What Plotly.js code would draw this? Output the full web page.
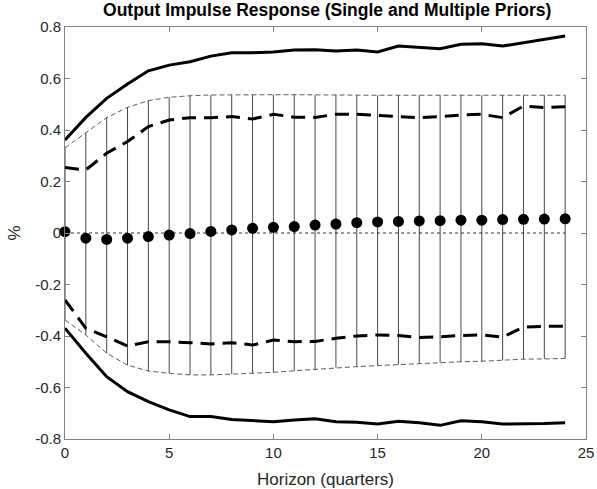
<!DOCTYPE html>
<html>
<head>
<meta charset="utf-8">
<script src="https://cdn.plot.ly/plotly-3.0.1.min.js"></script>
<style>html,body{margin:0;padding:0;background:#fff;}#chart{width:597px;height:489px;}</style>
</head>
<body>
<div id="chart"></div>
<script>
const horizon = [0,1,2,3,4,5,6,7,8,9,10,11,12,13,14,15,16,17,18,19,20,21,22,23,24];
const pointEstimate = [0.005,-0.02,-0.025,-0.02,-0.014,-0.008,-0.002,0.006,0.012,0.018,0.022,0.025,0.031,0.035,0.04,0.043,0.045,0.047,0.048,0.05,0.05,0.052,0.053,0.054,0.055];
const singleUpper = [0.331,0.39,0.448,0.488,0.514,0.527,0.533,0.536,0.537,0.537,0.537,0.537,0.536,0.536,0.535,0.535,0.535,0.535,0.535,0.535,0.535,0.535,0.535,0.535,0.535];
const singleLower = [-0.338,-0.396,-0.467,-0.513,-0.536,-0.545,-0.551,-0.551,-0.548,-0.545,-0.541,-0.535,-0.529,-0.523,-0.519,-0.515,-0.511,-0.507,-0.504,-0.5,-0.498,-0.494,-0.49,-0.489,-0.487];
const multiInnerUpper = [0.254,0.245,0.31,0.355,0.413,0.439,0.448,0.448,0.452,0.443,0.461,0.45,0.449,0.461,0.461,0.457,0.454,0.448,0.452,0.458,0.461,0.448,0.493,0.487,0.49];
const multiInnerLower = [-0.26,-0.37,-0.403,-0.439,-0.422,-0.422,-0.426,-0.431,-0.426,-0.435,-0.416,-0.422,-0.421,-0.409,-0.4,-0.396,-0.398,-0.406,-0.403,-0.398,-0.396,-0.404,-0.366,-0.362,-0.362];
const multiOuterUpper = [0.361,0.449,0.523,0.579,0.63,0.652,0.665,0.687,0.7,0.7,0.703,0.711,0.712,0.707,0.711,0.703,0.726,0.721,0.716,0.733,0.735,0.726,0.739,0.75,0.765];
const multiOuterLower = [-0.37,-0.467,-0.558,-0.616,-0.655,-0.687,-0.713,-0.713,-0.724,-0.729,-0.733,-0.726,-0.721,-0.733,-0.735,-0.742,-0.731,-0.737,-0.747,-0.729,-0.733,-0.742,-0.742,-0.74,-0.737];
const yTickVals = [-0.8,-0.6,-0.4,-0.2,0,0.2,0.4,0.6,0.8];
const yTickText = ['-0.8','-0.6','-0.4','-0.2','0','0.2','0.4','0.6','0.8'];
const xTickVals = [0,5,10,15,20,25];

// vertical stems between single-prior bands
const stemX = [], stemY = [];
horizon.forEach((h,i)=>{ stemX.push(h,h,null); stemY.push(singleLower[i],singleUpper[i],null); });

const FONT = 'Arial, Liberation Sans, sans-serif';

const traces = [
  {x: stemX, y: stemY, mode:'lines', line:{color:'#333', width:0.9}, hoverinfo:'skip'},
  {x: horizon, y: horizon.map(()=>0), mode:'lines', line:{color:'#000', width:0.8, dash:'dot'}},
  {x: horizon, y: singleUpper, mode:'lines', line:{color:'#333', width:0.8, dash:'5px,3px'}},
  {x: horizon, y: singleLower, mode:'lines', line:{color:'#333', width:0.8, dash:'5px,3px'}},
  {x: horizon, y: multiInnerUpper, mode:'lines', line:{color:'#000', width:3, dash:'14px,8px'}},
  {x: horizon, y: multiInnerLower, mode:'lines', line:{color:'#000', width:3, dash:'14px,8px'}},
  {x: horizon, y: multiOuterUpper, mode:'lines', line:{color:'#000', width:3}},
  {x: horizon, y: multiOuterLower, mode:'lines', line:{color:'#000', width:3}},
  {x: horizon, y: pointEstimate, mode:'markers', marker:{color:'#000', size:11}, cliponaxis:false}
];

const axisCommon = {
  showgrid:false, zeroline:false, showline:true, mirror:'ticks',
  linecolor:'#808080', linewidth:1, ticks:'inside', ticklen:5, tickcolor:'#808080',
  tickfont:{family:FONT, size:15, color:'#262626'}
};

const layout = {
  width:597, height:489,
  margin:{l:65, r:11, t:27, b:50},
  paper_bgcolor:'#fff', plot_bgcolor:'#fff',
  showlegend:false,
  title:{text:'<b>Output Impulse Response (Single and Multiple Priors)</b>',
    font:{family:FONT, size:17.5, color:'#000'},
    x:0.548, xanchor:'center', y:0.993, yanchor:'top'},
  xaxis: Object.assign({}, axisCommon, {range:[0,25], tickvals:xTickVals,
    title:{text:'Horizon (quarters)', font:{family:FONT, size:17, color:'#262626'}, standoff:13}}),
  yaxis: Object.assign({}, axisCommon, {range:[-0.8,0.8], tickvals:yTickVals, ticktext:yTickText,
    title:{text:'%', font:{family:FONT, size:17, color:'#262626'}, standoff:10}})
};

Plotly.newPlot('chart', traces, layout, {displayModeBar:false, staticPlot:true});
</script>
</body>
</html>
